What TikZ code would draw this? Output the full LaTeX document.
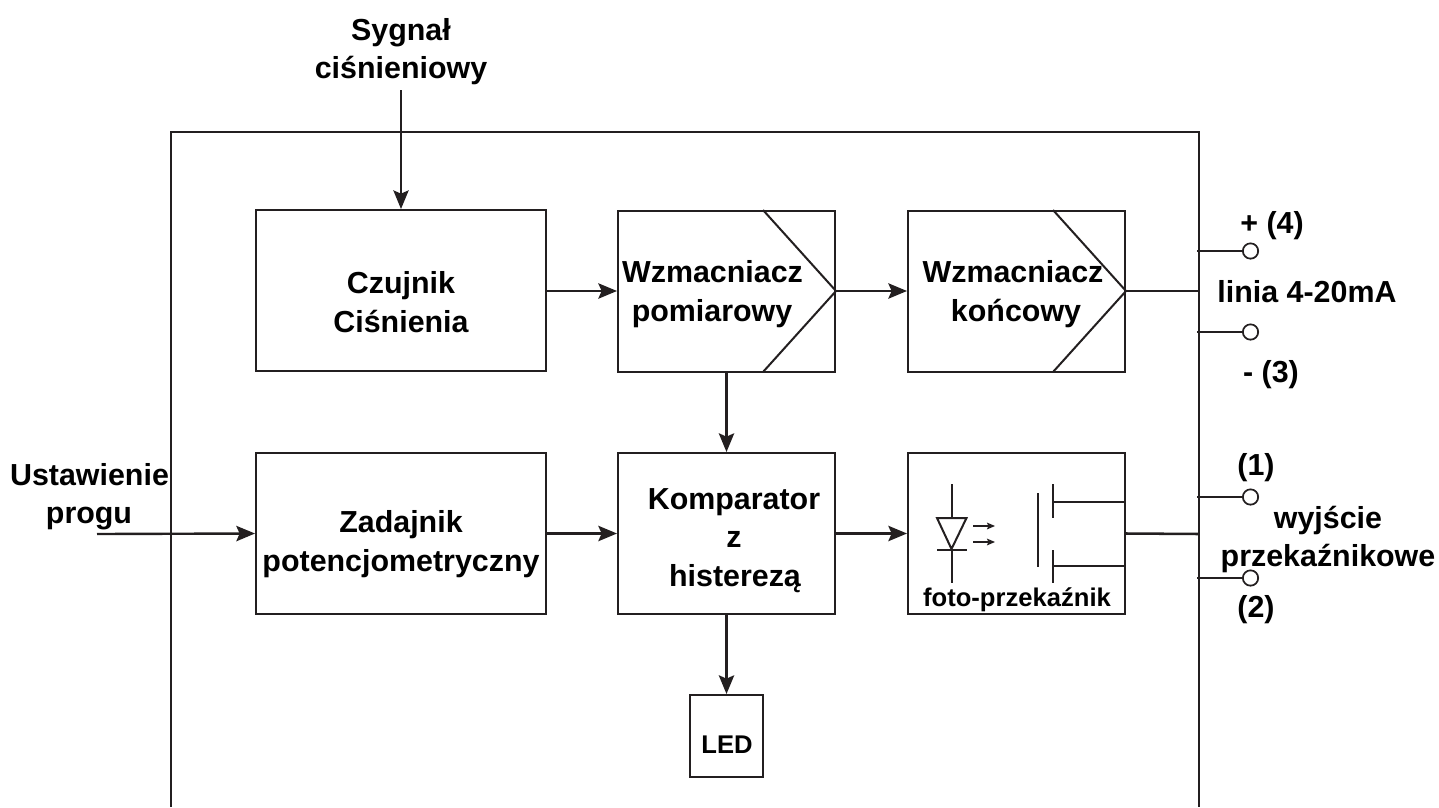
\documentclass[tikz,border=0pt]{standalone}
\usepackage{fontspec}
\setmainfont{Liberation Sans}
\usetikzlibrary{arrows.meta}
\definecolor{ink}{HTML}{231F20}
\tikzset{
  x=0.75pt,y=-0.75pt,
  blockbox/.style={draw=ink,line width=1.5pt,fill=white,inner sep=0pt,minimum width=217.5pt,minimum height=120.75pt},
  ampbox/.style={blockbox,minimum width=162.75pt},
  label/.style={inner sep=0pt,anchor=base,font=\fontsize{22.8}{29}\selectfont\bfseries},
  smalllabel/.style={inner sep=0pt,anchor=base,font=\fontsize{19.2}{23}\selectfont\bfseries},
  wire/.style={draw=ink,line width=1.5pt},
  heavy wire/.style={draw=ink,line width=1.9pt},
  flow/.style={draw=ink,line width=1.8pt,-{Stealth[length=14pt,width=11.5pt,inset=2.5pt]}},
  tiny flow/.style={draw=ink,line width=0.8pt,-{Stealth[length=6pt,width=5pt,inset=1pt]}},
  terminal/.style={circle,draw=ink,line width=1.3pt,fill=white,minimum size=11.5pt,inner sep=0pt},
}
\begin{document}
\begin{tikzpicture}
\useasboundingbox (0,0) rectangle (1439,807);
% housing
\coordinate (hbl) at (171,807);
\coordinate (htl) at (171,132);
\coordinate (htr) at (1199,132);
\coordinate (hbr) at (1199,807);
\draw[wire] (hbl) -- (htl) -- (htr) -- (hbr);
% blocks
\node[blockbox] (czujnik) at (401,290.5) {};
\node[blockbox] (zadajnik) at (401,533.5) {};
\node[ampbox] (wzm1) at (726.5,291) {};
\node[ampbox] (wzm2) at (1016.5,291) {};
\node[ampbox] (komp) at (726.5,533.5) {};
\node[ampbox] (foto) at (1016.5,533.5) {};
\node[draw=ink,line width=1.5pt,fill=white,minimum width=54.75pt,minimum height=61.5pt,inner sep=0pt] (led) at (726.5,736) {};
% amplifier chevrons
\coordinate (w1a) at (763,210);
\coordinate (w1b) at (763,372);
\coordinate (w2a) at (1053,210);
\coordinate (w2b) at (1053,372);
\draw[wire] (w1a) -- (wzm1.east) -- (w1b);
\draw[wire] (w2a) -- (wzm2.east) -- (w2b);
% texts
\node[label] at (401,40) (t1) {Sygnał};
\node[label] at (401,78) (t2) {ciśnieniowy};
\node[label] at (89.5,485) (t3) {Ustawienie};
\node[label] at (89,523) (t4) {progu};
\node[label] at (401,293) (t5) {Czujnik};
\node[label] at (401,332) (t6) {Ciśnienia};
\node[label] at (401,532) (t7) {Zadajnik};
\node[label] at (401,571) (t8) {potencjometryczny};
\node[label] at (712.5,282) (t9) {Wzmacniacz};
\node[label] at (712,321) (t10) {pomiarowy};
\node[label] at (1013,282) (t11) {Wzmacniacz};
\node[label] at (1016,321) (t12) {końcowy};
\node[label] at (734,509) (t13) {Komparator};
\node[label] at (734,547) (t14) {z};
\node[label] at (735,586) (t15) {histerezą};
\node[smalllabel] at (1017,606) (t16) {foto-przekaźnik};
\node[smalllabel] at (727,753) (t17) {LED};
\node[label] at (1272,233) (t18) {+ (4)};
\node[label] at (1307,302) (t19) {linia 4-20mA};
\node[label] at (1271,382) (t20) {- (3)};
\node[label] at (1256,475) (t21) {(1)};
\node[label] at (1256,617) (t22) {(2)};
\node[label] at (1328,528) (t23) {wyjście};
\node[label] at (1328,566) (t24) {przekaźnikowe};
% photorelay symbol
\coordinate (da) at (951.5,484);
\coordinate (db) at (951.5,583);
\coordinate (dl) at (937,518);
\coordinate (dr) at (966.5,518);
\coordinate (dt) at (951.5,549);
\coordinate (bl) at (937,550);
\coordinate (br) at (966.5,550);
\draw[wire] (da) -- (951.5,518);
\draw[wire] (dl) -- (dr) -- (dt) -- cycle;
\draw[wire] (bl) -- (br);
\draw[wire] (951.5,550) -- (db);
\coordinate (a1s) at (973,526);
\coordinate (a1e) at (995,526);
\coordinate (a2s) at (973,542);
\coordinate (a2e) at (995,542);
\draw[tiny flow] (a1s) -- (a1e);
\draw[tiny flow] (a2s) -- (a2e);
\coordinate (g1) at (1038,493);
\coordinate (g2) at (1038,567);
\draw[wire] (g1) -- (g2);
\coordinate (c1) at (1053,484);
\coordinate (c2) at (1053,518);
\coordinate (c3) at (1053,550);
\coordinate (c4) at (1053,583);
\draw[wire] (c1) -- (c2);
\draw[wire] (c3) -- (c4);
\coordinate (o1) at (1125,502);
\coordinate (o2) at (1125,566);
\draw[heavy wire] (1053,502) -- (o1);
\draw[heavy wire] (1053,566) -- (o2);
% terminals
\coordinate (j4) at (1197,251);
\coordinate (j3) at (1197,332);
\coordinate (j1) at (1197,497);
\coordinate (j2) at (1197,578);
\node[terminal] (p4) at (1250.5,251) {};
\node[terminal] (p3) at (1250.5,332) {};
\node[terminal] (p1) at (1250.5,497) {};
\node[terminal] (p2) at (1250.5,578) {};
\draw[wire] (j4) -- (p4);
\draw[wire] (j3) -- (p3);
\draw[wire] (j1) -- (p1);
\draw[wire] (j2) -- (p2);
% connectors
\coordinate (sig) at (401,90);
\coordinate (ust) at (97,534);
\coordinate (hr1) at (1199,291);
\coordinate (hr2) at (1199,534);
\draw[draw=ink,line width=1.4pt,-{Stealth[length=14pt,width=11.5pt,inset=2.5pt]}] (sig) -- (czujnik.north);
\draw[flow] (ust) -- (zadajnik.west);
\draw[flow] (czujnik.east |- wzm1.west) -- (wzm1.west);
\draw[flow] (wzm1.east) -- (wzm2.west);
\draw[heavy wire] (wzm2.east) -- (hr1);
\draw[flow] (zadajnik.east) -- (komp.west);
\draw[flow] (komp.east) -- (foto.west);
\draw[heavy wire] (foto.east) -- (hr2);
\draw[flow] (wzm1.south) -- (komp.north);
\draw[flow] (komp.south) -- (led.north);
\end{tikzpicture}
\end{document}
